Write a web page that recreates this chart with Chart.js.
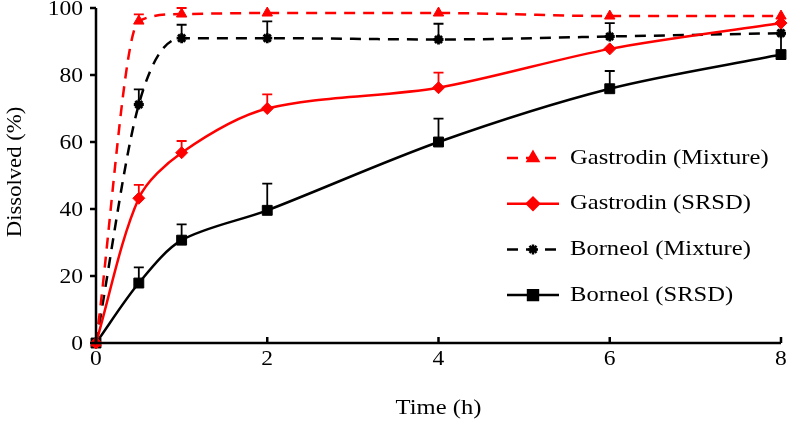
<!DOCTYPE html>
<html>
<head>
<meta charset="utf-8">
<script src="https://cdn.jsdelivr.net/npm/chart.js@4"></script>
<style>
  html, body { margin: 0; padding: 0; background: #fff; }
  #wrap { width: 797px; height: 423px; }
</style>
</head>
<body>
<div id="wrap"><canvas id="chart" width="797" height="423"></canvas></div>
<script>
// time points (h)
let times = [0, 0.5, 1, 2, 4, 6, 8];

// dissolved (%)
let gastrodinMixture = [0, 96.1, 98.2, 98.5, 98.5, 97.6, 97.6];
let gastrodinSRSD    = [0, 43.2, 56.8, 70.0, 76.2, 87.8, 95.5];
let borneolMixture   = [0, 71.2, 91.0, 91.0, 90.6, 91.5, 92.5];
let borneolSRSD      = [0, 17.9, 30.7, 39.6, 60.0, 75.9, 86.1];

// upper error bars (SD)
let gastrodinMixtureErr = [0, 2.0, 1.8, 0, 0, 0, 0];
let gastrodinSRSDErr    = [0, 4.0, 3.5, 4.2, 4.5, 0, 0];
let borneolMixtureErr   = [0, 4.5, 4.0, 5.0, 4.7, 4.0, 0];
let borneolSRSDErr      = [0, 4.7, 4.7, 8.0, 7.0, 5.3, 6.2];

let xTicks = [0, 2, 4, 6, 8];
let yTicks = [0, 20, 40, 60, 80, 100];

let labels = ['Gastrodin (Mixture)', 'Gastrodin (SRSD)', 'Borneol (Mixture)', 'Borneol (SRSD)'];

let font = '"Liberation Serif", "Times New Roman", serif';

let toPoints = (ys) => times.map((t, i) => ({x: t, y: ys[i]}));

let makeSet = function(label, ys, errs, color, dashed, style, radius) {
    let set = {
        label: label,
        data: toPoints(ys),
        errors: errs,
        borderColor: color,
        backgroundColor: color,
        borderWidth: 2.5,
        borderDash: dashed ? [11, 8] : [],
        pointStyle: style,
        pointRadius: radius,
        pointBorderWidth: style === 'star' ? 2.8 : 1,
        pointBorderColor: color,
        pointBackgroundColor: color,
        fill: false
    };
    // mixtures level off flat, SRSD curves are plain smoothed
    if (dashed) set.cubicInterpolationMode = 'monotone';
    else set.tension = 0.3;
    return set;
};

// text drawn a bit wider than tall, like the source picture
let wideText = function(ctx, text, x, y, size, align, stretch) {
    ctx.save();
    ctx.font = size + 'px ' + font;
    ctx.textAlign = align;
    ctx.textBaseline = 'middle';
    ctx.translate(x, y);
    ctx.scale(stretch, 1);
    ctx.fillText(text, 0, 0);
    ctx.restore();
};

// error bars + axes, ticks, labels + legend inside the plot
let extras = {
    id: 'extras',
    beforeDatasetsDraw(chart) {
        let ctx = chart.ctx;
        let xs = chart.scales.x, ys = chart.scales.y;
        ctx.save();
        chart.data.datasets.forEach((ds) => {
            ctx.strokeStyle = ds.borderColor;
            ctx.lineWidth = 1.8;
            ctx.setLineDash([]);
            ds.data.forEach((p, i) => {
                let e = ds.errors[i];
                if (!e) return;
                let px = xs.getPixelForValue(p.x);
                let y0 = ys.getPixelForValue(p.y);
                let y1 = ys.getPixelForValue(p.y + e);
                ctx.beginPath();
                ctx.moveTo(px, y0);
                ctx.lineTo(px, y1);
                ctx.moveTo(px - 5, y1);
                ctx.lineTo(px + 5, y1);
                ctx.stroke();
            });
        });
        ctx.restore();
    },
    afterDraw(chart) {
        let ctx = chart.ctx;
        let xs = chart.scales.x, ys = chart.scales.y;
        let area = chart.chartArea;
        ctx.save();
        ctx.strokeStyle = '#000';
        ctx.fillStyle = '#000';
        ctx.lineWidth = 2.5;
        ctx.setLineDash([]);
        // axes
        ctx.beginPath();
        ctx.moveTo(area.left, ys.getPixelForValue(100));
        ctx.lineTo(area.left, area.bottom);
        ctx.lineTo(xs.getPixelForValue(8), area.bottom);
        ctx.stroke();
        // y ticks out, x ticks in
        ctx.beginPath();
        yTicks.forEach((v) => {
            let py = ys.getPixelForValue(v);
            ctx.moveTo(area.left - 6, py);
            ctx.lineTo(area.left, py);
            wideText(ctx, String(v), area.left - 13, py + 1, 21, 'right', 1.12);
        });
        xTicks.forEach((v) => {
            let px = xs.getPixelForValue(v);
            ctx.moveTo(px, area.bottom);
            ctx.lineTo(px, area.bottom - 6);
            wideText(ctx, String(v), px, area.bottom + 16, 21, 'center', 1.12);
        });
        ctx.stroke();

        // axis titles
        wideText(ctx, 'Time (h)', (xs.left + xs.right) / 2, 408, 21, 'center', 1.17);
        ctx.save();
        ctx.translate(15, 172);
        ctx.rotate(-Math.PI / 2);
        wideText(ctx, 'Dissolved (%)', 0, 0, 21, 'center', 1.08);
        ctx.restore();

        // legend
        let lx = 507, ly = 158, gap = 45.7;
        chart.data.datasets.forEach((ds, i) => {
            let y = ly + i * gap;
            ctx.strokeStyle = ds.borderColor;
            ctx.lineWidth = 2.5;
            ctx.setLineDash(ds.borderDash);
            ctx.beginPath();
            ctx.moveTo(lx, y);
            ctx.lineTo(lx + 52, y);
            ctx.stroke();
            ctx.setLineDash([]);
            ctx.fillStyle = ds.borderColor;
            Chart.helpers.drawPoint(ctx, {
                pointStyle: ds.pointStyle,
                radius: ds.pointRadius,
                rotation: 0,
                borderWidth: ds.pointBorderWidth
            }, lx + 26, y);
            ctx.fillStyle = '#000';
            wideText(ctx, ds.label, lx + 63, y, 21, 'left', 1.17);
        });
        ctx.restore();
    }
};

let chart = new Chart(document.getElementById('chart').getContext('2d'), {
    type: 'line',
    data: {
        datasets: [
            makeSet(labels[0], gastrodinMixture, gastrodinMixtureErr, '#ff0000', true, 'triangle', 6),
            makeSet(labels[1], gastrodinSRSD, gastrodinSRSDErr, '#ff0000', false, 'rectRot', 6),
            makeSet(labels[2], borneolMixture, borneolMixtureErr, '#000000', true, 'star', 5),
            makeSet(labels[3], borneolSRSD, borneolSRSDErr, '#000000', false, 'rect', 7)
        ]
    },
    options: {
        responsive: false,
        animation: false,
        clip: false,
        layout: { padding: { top: 7, right: 16, left: 0, bottom: 0 } },
        plugins: {
            legend: { display: false },
            tooltip: { enabled: false }
        },
        scales: {
            x: {
                type: 'linear',
                min: 0,
                max: 8,
                afterBuildTicks: (s) => { s.ticks = xTicks.map(v => ({value: v})); },
                afterFit: (s) => { s.height = 80; s.paddingLeft = 0; s.paddingRight = 0; },
                grid: { display: false },
                border: { display: false },
                ticks: { display: false }
            },
            y: {
                min: 0,
                max: 100,
                afterBuildTicks: (s) => { s.ticks = yTicks.map(v => ({value: v})); },
                afterFit: (s) => { s.width = 96; s.paddingTop = 0; s.paddingBottom = 0; },
                grid: { display: false },
                border: { display: false },
                ticks: { display: false }
            }
        }
    },
    plugins: [extras]
});
</script>
</body>
</html>
